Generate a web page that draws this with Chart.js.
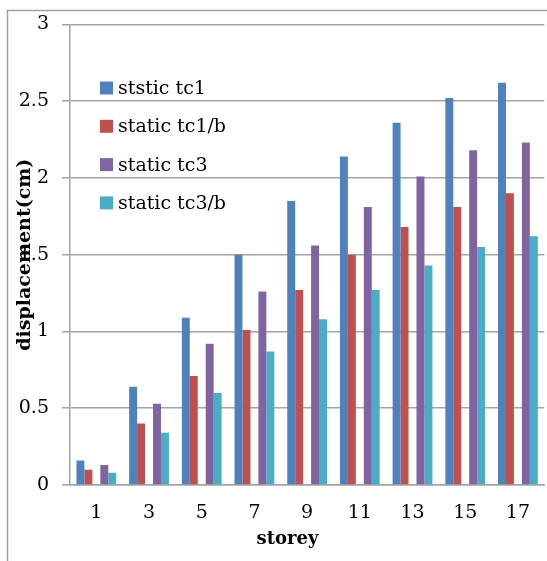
<!DOCTYPE html>
<html>
<head>
<meta charset="utf-8">
<title>Storey displacement</title>
<script src="https://cdn.jsdelivr.net/npm/chart.js@4.4.0/dist/chart.umd.min.js"></script>
<style>
    html, body { margin: 0; padding: 0; background: #fff; }
    #wrap { position: relative; width: 547px; height: 561px; }
</style>
</head>
<body>
<div id="wrap"><canvas id="dispChart"></canvas></div>
<script>
// Storey numbers along the x axis
const storeys = ['1', '3', '5', '7', '9', '11', '13', '15', '17'];

// Displacement (cm) for each load case
const ststicTc1 = [0.16, 0.64, 1.09, 1.50, 1.85, 2.14, 2.36, 2.52, 2.62];
const staticTc1b = [0.10, 0.40, 0.71, 1.01, 1.27, 1.50, 1.68, 1.81, 1.90];
const staticTc3 = [0.13, 0.53, 0.92, 1.26, 1.56, 1.81, 2.01, 2.18, 2.23];
const staticTc3b = [0.08, 0.34, 0.60, 0.87, 1.08, 1.27, 1.43, 1.55, 1.62];

// Y axis tick values
const yTicks = [0, 0.5, 1, 1.5, 2, 2.5, 3];

const FONT = '"DejaVu Serif", serif';
const GRID = '#a3a3a3';

// Thin frame along the top and left edge of the chart object
const framePlugin = {
    id: 'frame',
    beforeDraw(chart) {
        const ctx = chart.ctx;
        ctx.save();
        ctx.strokeStyle = '#a0a0a0';
        ctx.lineWidth = 1.5;
        ctx.beginPath();
        ctx.moveTo(7.5, chart.height);
        ctx.lineTo(7.5, 10.5);
        ctx.lineTo(chart.width, 10.5);
        ctx.stroke();
        ctx.restore();
    }
};

// Legend drawn inside the plot, top-left, one entry per line
const insideLegend = {
    id: 'insideLegend',
    afterDraw(chart) {
        const ctx = chart.ctx;
        const items = chart.data.datasets.filter(ds => ds.label);
        ctx.save();
        ctx.font = '19px ' + FONT;
        ctx.textBaseline = 'middle';
        items.forEach((ds, i) => {
            const y = 88 + i * 38.3;
            ctx.fillStyle = ds.backgroundColor;
            ctx.fillRect(100, y - 6.5, 13, 13);
            ctx.fillStyle = '#000';
            ctx.fillText(ds.label, 118, y + 1);
        });
        ctx.restore();
    }
};

// Axis titles: the vertical one sits over the tick labels,
// the horizontal one is centred a little left of the plot middle
const axisTitles = {
    id: 'axisTitles',
    afterDraw(chart) {
        const ctx = chart.ctx;
        const area = chart.chartArea;
        ctx.save();
        ctx.fillStyle = '#000';
        ctx.textAlign = 'center';
        ctx.textBaseline = 'middle';

        ctx.font = 'bold 18px ' + FONT;
        ctx.fillText('storey', 287.5, 539);

        ctx.translate(25, (area.top + area.bottom) / 2);
        ctx.rotate(-Math.PI / 2);
        ctx.font = 'bold 19px ' + FONT;
        ctx.fillText('displacement(cm)', 0, 0);
        ctx.restore();
    }
};

function createDisplacementChart() {
    const ctx = document.getElementById('dispChart');
    new Chart(ctx, {
        type: 'bar',
        data: {
            labels: storeys,
            datasets: [
                { label: 'ststic tc1', data: ststicTc1, backgroundColor: '#4f81bd' },
                { label: 'static tc1/b', data: staticTc1b, backgroundColor: '#c0504d' },
                // empty slot that leaves the gap in the middle of each group
                { label: '', data: storeys.map(() => null), backgroundColor: 'rgba(0,0,0,0)' },
                { label: 'static tc3', data: staticTc3, backgroundColor: '#8064a2' },
                { label: 'static tc3/b', data: staticTc3b, backgroundColor: '#4bacc6' }
            ]
        },
        options: {
            responsive: true,
            maintainAspectRatio: false,
            animation: false,
            layout: { padding: { top: 23, left: 0, right: 0, bottom: 0 } },
            datasets: {
                bar: { categoryPercentage: 0.755, barPercentage: 1.0 }
            },
            plugins: {
                legend: { display: false },
                tooltip: { enabled: false }
            },
            scales: {
                x: {
                    grid: { display: false, drawTicks: false },
                    border: { display: true, color: GRID, width: 1.5 },
                    ticks: { color: '#000', font: { family: FONT, size: 19 }, padding: 17 },
                    afterFit(scale) { scale.height = 76; }
                },
                y: {
                    min: 0,
                    max: 3,
                    afterBuildTicks(axis) { axis.ticks = yTicks.map(v => ({ value: v })); },
                    grid: { color: GRID, lineWidth: 1.5, tickLength: 8, drawTicks: true },
                    border: { display: true, color: GRID, width: 1.5 },
                    ticks: {
                        color: '#000',
                        font: { family: FONT, size: 19 },
                        padding: 13,
                        callback: v => String(v)
                    },
                    afterFit(scale) { scale.width = 70; }
                }
            }
        },
        plugins: [framePlugin, insideLegend, axisTitles]
    });
}

document.addEventListener('DOMContentLoaded', createDisplacementChart);
</script>
</body>
</html>
